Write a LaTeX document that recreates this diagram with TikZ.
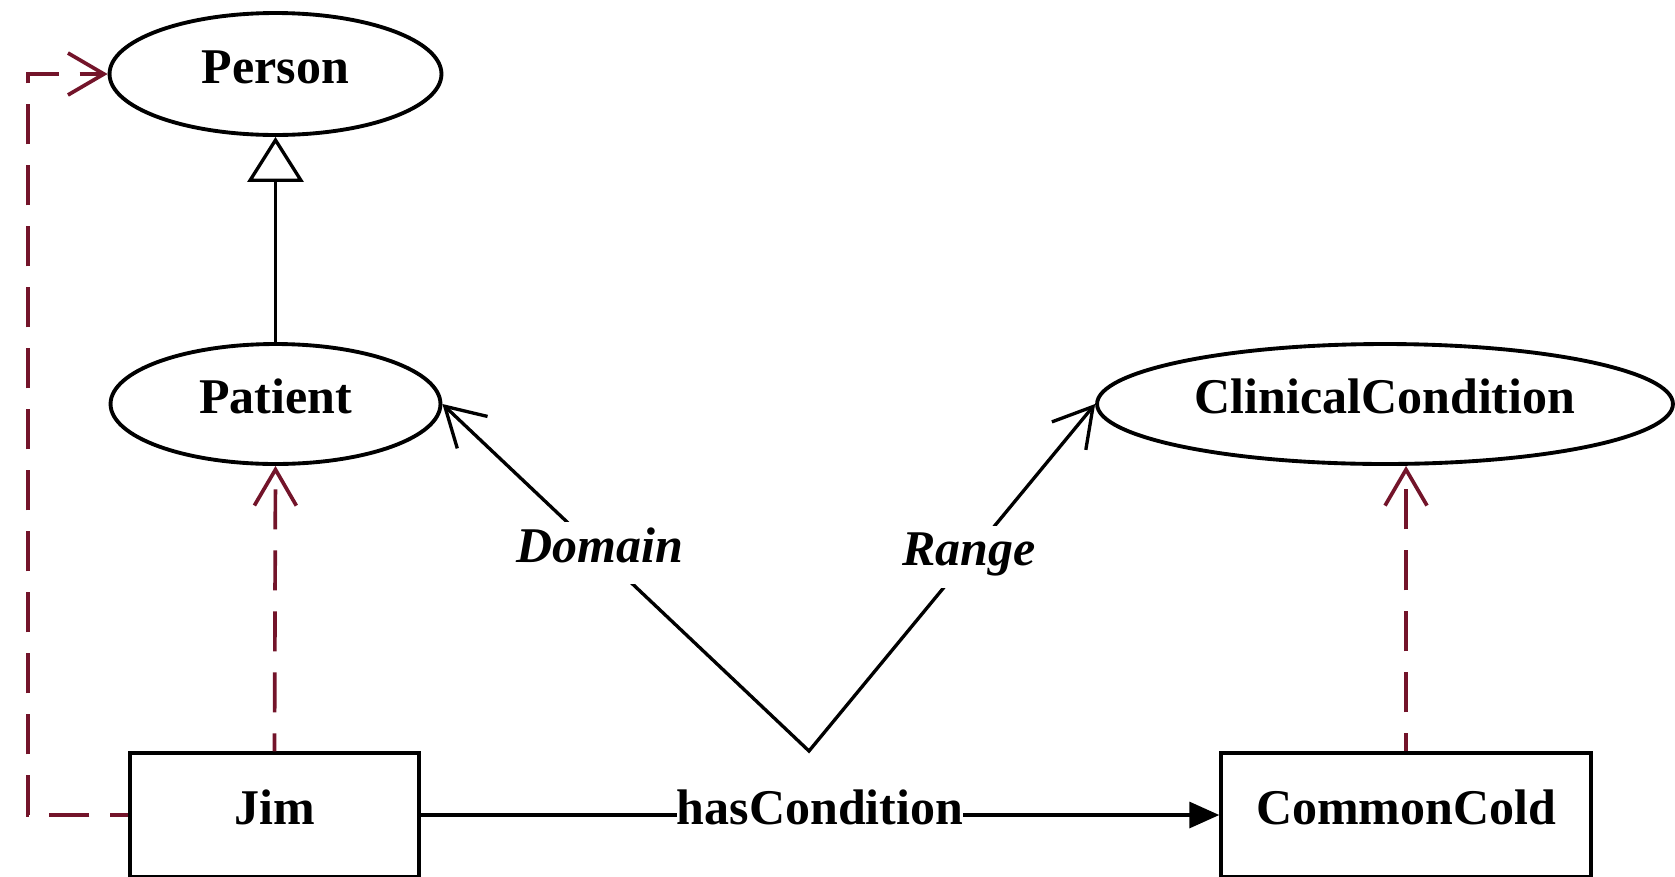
\documentclass[tikz,border=0pt]{standalone}
\usepackage{fontspec}
\setmainfont{Liberation Serif}
\usetikzlibrary{arrows.meta,shapes.geometric}
\definecolor{instline}{RGB}{115,20,42}
\begin{document}
\begin{tikzpicture}[x=0.02cm,y=-0.02cm,
  every node/.style={font=\fontsize{28.45pt}{34pt}\selectfont\bfseries,
    text height=0.68cm, text depth=0.32cm, inner sep=0pt},
  class/.style={ellipse, draw, line width=2.2pt},
  indiv/.style={rectangle, draw, line width=2pt, minimum height=2.48cm},
  rel/.style={line width=1.9pt},
  inst/.style={draw=instline, line width=2.1pt,
    dash pattern=on 0.8cm off 0.42cm, dash phase=0.44cm,
    -{Straight Barb[length=0.72cm,width=0.84cm]}},
  lbl/.style={fill=white, inner xsep=0.1cm, inner ysep=0.12cm,
    font=\fontsize{28.45pt}{34pt}\selectfont\bfseries\itshape}
]
\useasboundingbox (0,0) rectangle (1675,876);

% classes
\node[class, minimum width=6.64cm, minimum height=2.44cm] (person) at (275.5,74) {Person};
\node[class, minimum width=6.6cm, minimum height=2.4cm] (patient) at (275.5,404) {Patient};
\node[class, minimum width=11.52cm, minimum height=2.4cm] (cc) at (1385,404) {ClinicalCondition};

% individuals
\node[indiv, minimum width=5.78cm] (jim) at (274.5,815) {Jim};
\node[indiv, minimum width=7.4cm] (cold) at (1406,815) {CommonCold};

% helper points
\coordinate (apex) at (809,751);
\coordinate (rail) at (28,0);

% subclass
\draw[rel, -{Triangle[open,length=0.9cm,width=1.12cm]}] (patient) -- (person);

% property with domain and range
\draw[rel, {Straight Barb[length=0.76cm,width=0.88cm]}-{Straight Barb[length=0.76cm,width=0.88cm]}]
  (patient.east) -- node[lbl, pos=0.43] {Domain} (apex)
  -- node[lbl, pos=0.56] {Range} (cc.west);

% assertion
\draw[rel, -{Triangle[length=0.6cm,width=0.52cm]}] (jim) -- node[fill=white] {hasCondition} (cold);

% instance-of links
\draw[inst] (jim.north) -- (patient.south);
\draw[inst] (cold.north) -- (cold.north |- cc.south);
\draw[inst] (jim.west) -- (jim.west -| rail) -- (person.west -| rail) -- (person.west);
\end{tikzpicture}
\end{document}
